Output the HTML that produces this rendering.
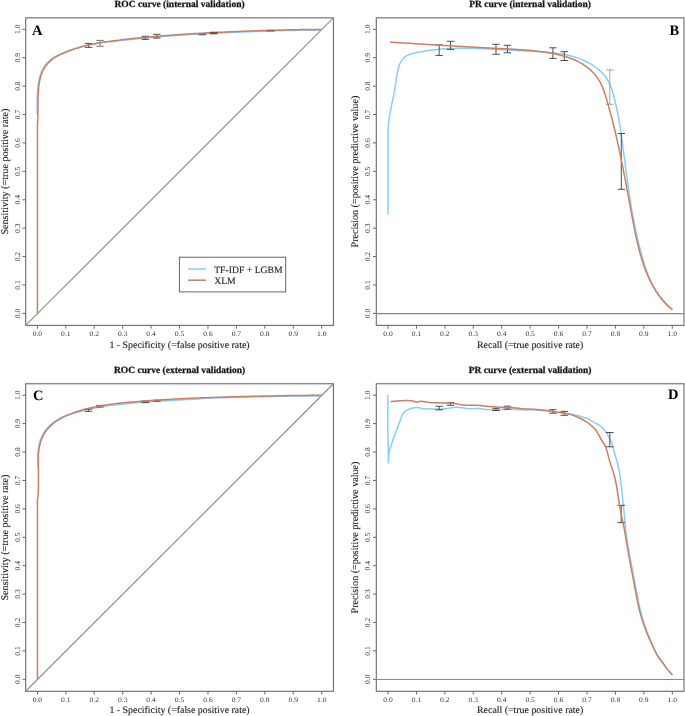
<!DOCTYPE html>
<html><head><meta charset="utf-8"><style>
html,body{margin:0;padding:0;background:#fff;width:685px;height:716px;overflow:hidden}
svg{display:block;will-change:transform}
text{font-family:"Liberation Serif", serif;text-rendering:geometricPrecision}
</style></head><body>
<svg width="685" height="716" viewBox="0 0 685 716">
<rect width="685" height="716" fill="#fff"/>
<g transform="translate(0,0)">
<rect x="25.7" y="17.85" width="307.70" height="307.55" fill="none" stroke="#6a6a6a" stroke-width="1.1"/>
<line x1="37.40" y1="325.4" x2="37.40" y2="328.7" stroke="#5a5a5a" stroke-width="0.9"/>
<line x1="25.7" y1="313.40" x2="22.4" y2="313.40" stroke="#5a5a5a" stroke-width="0.9"/>
<text transform="translate(37.40,335.8) scale(1,0.9)" font-size="7.6" text-anchor="middle" fill="#333">0.0</text>
<text transform="translate(19.6,313.40) rotate(-90)" font-size="7.6" text-anchor="middle" fill="#333">0.0</text>
<line x1="65.83" y1="325.4" x2="65.83" y2="328.7" stroke="#5a5a5a" stroke-width="0.9"/>
<line x1="25.7" y1="284.99" x2="22.4" y2="284.99" stroke="#5a5a5a" stroke-width="0.9"/>
<text transform="translate(65.83,335.8) scale(1,0.9)" font-size="7.6" text-anchor="middle" fill="#333">0.1</text>
<text transform="translate(19.6,284.99) rotate(-90)" font-size="7.6" text-anchor="middle" fill="#333">0.1</text>
<line x1="94.26" y1="325.4" x2="94.26" y2="328.7" stroke="#5a5a5a" stroke-width="0.9"/>
<line x1="25.7" y1="256.58" x2="22.4" y2="256.58" stroke="#5a5a5a" stroke-width="0.9"/>
<text transform="translate(94.26,335.8) scale(1,0.9)" font-size="7.6" text-anchor="middle" fill="#333">0.2</text>
<text transform="translate(19.6,256.58) rotate(-90)" font-size="7.6" text-anchor="middle" fill="#333">0.2</text>
<line x1="122.69" y1="325.4" x2="122.69" y2="328.7" stroke="#5a5a5a" stroke-width="0.9"/>
<line x1="25.7" y1="228.17" x2="22.4" y2="228.17" stroke="#5a5a5a" stroke-width="0.9"/>
<text transform="translate(122.69,335.8) scale(1,0.9)" font-size="7.6" text-anchor="middle" fill="#333">0.3</text>
<text transform="translate(19.6,228.17) rotate(-90)" font-size="7.6" text-anchor="middle" fill="#333">0.3</text>
<line x1="151.12" y1="325.4" x2="151.12" y2="328.7" stroke="#5a5a5a" stroke-width="0.9"/>
<line x1="25.7" y1="199.76" x2="22.4" y2="199.76" stroke="#5a5a5a" stroke-width="0.9"/>
<text transform="translate(151.12,335.8) scale(1,0.9)" font-size="7.6" text-anchor="middle" fill="#333">0.4</text>
<text transform="translate(19.6,199.76) rotate(-90)" font-size="7.6" text-anchor="middle" fill="#333">0.4</text>
<line x1="179.55" y1="325.4" x2="179.55" y2="328.7" stroke="#5a5a5a" stroke-width="0.9"/>
<line x1="25.7" y1="171.35" x2="22.4" y2="171.35" stroke="#5a5a5a" stroke-width="0.9"/>
<text transform="translate(179.55,335.8) scale(1,0.9)" font-size="7.6" text-anchor="middle" fill="#333">0.5</text>
<text transform="translate(19.6,171.35) rotate(-90)" font-size="7.6" text-anchor="middle" fill="#333">0.5</text>
<line x1="207.98" y1="325.4" x2="207.98" y2="328.7" stroke="#5a5a5a" stroke-width="0.9"/>
<line x1="25.7" y1="142.94" x2="22.4" y2="142.94" stroke="#5a5a5a" stroke-width="0.9"/>
<text transform="translate(207.98,335.8) scale(1,0.9)" font-size="7.6" text-anchor="middle" fill="#333">0.6</text>
<text transform="translate(19.6,142.94) rotate(-90)" font-size="7.6" text-anchor="middle" fill="#333">0.6</text>
<line x1="236.41" y1="325.4" x2="236.41" y2="328.7" stroke="#5a5a5a" stroke-width="0.9"/>
<line x1="25.7" y1="114.53" x2="22.4" y2="114.53" stroke="#5a5a5a" stroke-width="0.9"/>
<text transform="translate(236.41,335.8) scale(1,0.9)" font-size="7.6" text-anchor="middle" fill="#333">0.7</text>
<text transform="translate(19.6,114.53) rotate(-90)" font-size="7.6" text-anchor="middle" fill="#333">0.7</text>
<line x1="264.84" y1="325.4" x2="264.84" y2="328.7" stroke="#5a5a5a" stroke-width="0.9"/>
<line x1="25.7" y1="86.12" x2="22.4" y2="86.12" stroke="#5a5a5a" stroke-width="0.9"/>
<text transform="translate(264.84,335.8) scale(1,0.9)" font-size="7.6" text-anchor="middle" fill="#333">0.8</text>
<text transform="translate(19.6,86.12) rotate(-90)" font-size="7.6" text-anchor="middle" fill="#333">0.8</text>
<line x1="293.27" y1="325.4" x2="293.27" y2="328.7" stroke="#5a5a5a" stroke-width="0.9"/>
<line x1="25.7" y1="57.71" x2="22.4" y2="57.71" stroke="#5a5a5a" stroke-width="0.9"/>
<text transform="translate(293.27,335.8) scale(1,0.9)" font-size="7.6" text-anchor="middle" fill="#333">0.9</text>
<text transform="translate(19.6,57.71) rotate(-90)" font-size="7.6" text-anchor="middle" fill="#333">0.9</text>
<line x1="321.70" y1="325.4" x2="321.70" y2="328.7" stroke="#5a5a5a" stroke-width="0.9"/>
<line x1="25.7" y1="29.30" x2="22.4" y2="29.30" stroke="#5a5a5a" stroke-width="0.9"/>
<text transform="translate(321.70,335.8) scale(1,0.9)" font-size="7.6" text-anchor="middle" fill="#333">1.0</text>
<text transform="translate(19.6,29.30) rotate(-90)" font-size="7.6" text-anchor="middle" fill="#333">1.0</text>
<text x="179.55" y="6.9" font-size="9.5" font-weight="bold" text-anchor="middle" fill="#111" stroke="#111" stroke-width="0.25">ROC curve (internal validation)</text>
<text x="179.55" y="347.5" font-size="9.9" text-anchor="middle" fill="#1a1a1a" stroke="#1a1a1a" stroke-width="0.12">1 - Specificity (=false positive rate)</text>
<text transform="translate(7.8,171.62) rotate(-90)" font-size="10.1" text-anchor="middle" fill="#1a1a1a" stroke="#1a1a1a" stroke-width="0.12">Sensitivity (=true positive rate)</text>
<text x="31.9" y="34.6" font-size="14.5" font-weight="bold" text-anchor="start" fill="#000">A</text>
</g>
<g transform="translate(350.6,0)">
<rect x="25.7" y="17.85" width="307.70" height="307.55" fill="none" stroke="#6a6a6a" stroke-width="1.1"/>
<line x1="37.40" y1="325.4" x2="37.40" y2="328.7" stroke="#5a5a5a" stroke-width="0.9"/>
<line x1="25.7" y1="313.40" x2="22.4" y2="313.40" stroke="#5a5a5a" stroke-width="0.9"/>
<text transform="translate(37.40,335.8) scale(1,0.9)" font-size="7.6" text-anchor="middle" fill="#333">0.0</text>
<text transform="translate(19.6,313.40) rotate(-90)" font-size="7.6" text-anchor="middle" fill="#333">0.0</text>
<line x1="65.83" y1="325.4" x2="65.83" y2="328.7" stroke="#5a5a5a" stroke-width="0.9"/>
<line x1="25.7" y1="284.99" x2="22.4" y2="284.99" stroke="#5a5a5a" stroke-width="0.9"/>
<text transform="translate(65.83,335.8) scale(1,0.9)" font-size="7.6" text-anchor="middle" fill="#333">0.1</text>
<text transform="translate(19.6,284.99) rotate(-90)" font-size="7.6" text-anchor="middle" fill="#333">0.1</text>
<line x1="94.26" y1="325.4" x2="94.26" y2="328.7" stroke="#5a5a5a" stroke-width="0.9"/>
<line x1="25.7" y1="256.58" x2="22.4" y2="256.58" stroke="#5a5a5a" stroke-width="0.9"/>
<text transform="translate(94.26,335.8) scale(1,0.9)" font-size="7.6" text-anchor="middle" fill="#333">0.2</text>
<text transform="translate(19.6,256.58) rotate(-90)" font-size="7.6" text-anchor="middle" fill="#333">0.2</text>
<line x1="122.69" y1="325.4" x2="122.69" y2="328.7" stroke="#5a5a5a" stroke-width="0.9"/>
<line x1="25.7" y1="228.17" x2="22.4" y2="228.17" stroke="#5a5a5a" stroke-width="0.9"/>
<text transform="translate(122.69,335.8) scale(1,0.9)" font-size="7.6" text-anchor="middle" fill="#333">0.3</text>
<text transform="translate(19.6,228.17) rotate(-90)" font-size="7.6" text-anchor="middle" fill="#333">0.3</text>
<line x1="151.12" y1="325.4" x2="151.12" y2="328.7" stroke="#5a5a5a" stroke-width="0.9"/>
<line x1="25.7" y1="199.76" x2="22.4" y2="199.76" stroke="#5a5a5a" stroke-width="0.9"/>
<text transform="translate(151.12,335.8) scale(1,0.9)" font-size="7.6" text-anchor="middle" fill="#333">0.4</text>
<text transform="translate(19.6,199.76) rotate(-90)" font-size="7.6" text-anchor="middle" fill="#333">0.4</text>
<line x1="179.55" y1="325.4" x2="179.55" y2="328.7" stroke="#5a5a5a" stroke-width="0.9"/>
<line x1="25.7" y1="171.35" x2="22.4" y2="171.35" stroke="#5a5a5a" stroke-width="0.9"/>
<text transform="translate(179.55,335.8) scale(1,0.9)" font-size="7.6" text-anchor="middle" fill="#333">0.5</text>
<text transform="translate(19.6,171.35) rotate(-90)" font-size="7.6" text-anchor="middle" fill="#333">0.5</text>
<line x1="207.98" y1="325.4" x2="207.98" y2="328.7" stroke="#5a5a5a" stroke-width="0.9"/>
<line x1="25.7" y1="142.94" x2="22.4" y2="142.94" stroke="#5a5a5a" stroke-width="0.9"/>
<text transform="translate(207.98,335.8) scale(1,0.9)" font-size="7.6" text-anchor="middle" fill="#333">0.6</text>
<text transform="translate(19.6,142.94) rotate(-90)" font-size="7.6" text-anchor="middle" fill="#333">0.6</text>
<line x1="236.41" y1="325.4" x2="236.41" y2="328.7" stroke="#5a5a5a" stroke-width="0.9"/>
<line x1="25.7" y1="114.53" x2="22.4" y2="114.53" stroke="#5a5a5a" stroke-width="0.9"/>
<text transform="translate(236.41,335.8) scale(1,0.9)" font-size="7.6" text-anchor="middle" fill="#333">0.7</text>
<text transform="translate(19.6,114.53) rotate(-90)" font-size="7.6" text-anchor="middle" fill="#333">0.7</text>
<line x1="264.84" y1="325.4" x2="264.84" y2="328.7" stroke="#5a5a5a" stroke-width="0.9"/>
<line x1="25.7" y1="86.12" x2="22.4" y2="86.12" stroke="#5a5a5a" stroke-width="0.9"/>
<text transform="translate(264.84,335.8) scale(1,0.9)" font-size="7.6" text-anchor="middle" fill="#333">0.8</text>
<text transform="translate(19.6,86.12) rotate(-90)" font-size="7.6" text-anchor="middle" fill="#333">0.8</text>
<line x1="293.27" y1="325.4" x2="293.27" y2="328.7" stroke="#5a5a5a" stroke-width="0.9"/>
<line x1="25.7" y1="57.71" x2="22.4" y2="57.71" stroke="#5a5a5a" stroke-width="0.9"/>
<text transform="translate(293.27,335.8) scale(1,0.9)" font-size="7.6" text-anchor="middle" fill="#333">0.9</text>
<text transform="translate(19.6,57.71) rotate(-90)" font-size="7.6" text-anchor="middle" fill="#333">0.9</text>
<line x1="321.70" y1="325.4" x2="321.70" y2="328.7" stroke="#5a5a5a" stroke-width="0.9"/>
<line x1="25.7" y1="29.30" x2="22.4" y2="29.30" stroke="#5a5a5a" stroke-width="0.9"/>
<text transform="translate(321.70,335.8) scale(1,0.9)" font-size="7.6" text-anchor="middle" fill="#333">1.0</text>
<text transform="translate(19.6,29.30) rotate(-90)" font-size="7.6" text-anchor="middle" fill="#333">1.0</text>
<text x="179.55" y="6.9" font-size="9.5" font-weight="bold" text-anchor="middle" fill="#111" stroke="#111" stroke-width="0.25">PR curve (internal validation)</text>
<text x="179.55" y="347.5" font-size="9.9" text-anchor="middle" fill="#1a1a1a" stroke="#1a1a1a" stroke-width="0.12">Recall (=true positive rate)</text>
<text transform="translate(7.8,171.62) rotate(-90)" font-size="10.1" text-anchor="middle" fill="#1a1a1a" stroke="#1a1a1a" stroke-width="0.12">Precision (=positive predictive value)</text>
<text x="328.6" y="35.1" font-size="14.5" font-weight="bold" text-anchor="end" fill="#000">B</text>
</g>
<g transform="translate(0,365.9)">
<rect x="25.7" y="17.85" width="307.70" height="307.55" fill="none" stroke="#6a6a6a" stroke-width="1.1"/>
<line x1="37.40" y1="325.4" x2="37.40" y2="328.7" stroke="#5a5a5a" stroke-width="0.9"/>
<line x1="25.7" y1="313.40" x2="22.4" y2="313.40" stroke="#5a5a5a" stroke-width="0.9"/>
<text transform="translate(37.40,335.8) scale(1,0.9)" font-size="7.6" text-anchor="middle" fill="#333">0.0</text>
<text transform="translate(19.6,313.40) rotate(-90)" font-size="7.6" text-anchor="middle" fill="#333">0.0</text>
<line x1="65.83" y1="325.4" x2="65.83" y2="328.7" stroke="#5a5a5a" stroke-width="0.9"/>
<line x1="25.7" y1="284.99" x2="22.4" y2="284.99" stroke="#5a5a5a" stroke-width="0.9"/>
<text transform="translate(65.83,335.8) scale(1,0.9)" font-size="7.6" text-anchor="middle" fill="#333">0.1</text>
<text transform="translate(19.6,284.99) rotate(-90)" font-size="7.6" text-anchor="middle" fill="#333">0.1</text>
<line x1="94.26" y1="325.4" x2="94.26" y2="328.7" stroke="#5a5a5a" stroke-width="0.9"/>
<line x1="25.7" y1="256.58" x2="22.4" y2="256.58" stroke="#5a5a5a" stroke-width="0.9"/>
<text transform="translate(94.26,335.8) scale(1,0.9)" font-size="7.6" text-anchor="middle" fill="#333">0.2</text>
<text transform="translate(19.6,256.58) rotate(-90)" font-size="7.6" text-anchor="middle" fill="#333">0.2</text>
<line x1="122.69" y1="325.4" x2="122.69" y2="328.7" stroke="#5a5a5a" stroke-width="0.9"/>
<line x1="25.7" y1="228.17" x2="22.4" y2="228.17" stroke="#5a5a5a" stroke-width="0.9"/>
<text transform="translate(122.69,335.8) scale(1,0.9)" font-size="7.6" text-anchor="middle" fill="#333">0.3</text>
<text transform="translate(19.6,228.17) rotate(-90)" font-size="7.6" text-anchor="middle" fill="#333">0.3</text>
<line x1="151.12" y1="325.4" x2="151.12" y2="328.7" stroke="#5a5a5a" stroke-width="0.9"/>
<line x1="25.7" y1="199.76" x2="22.4" y2="199.76" stroke="#5a5a5a" stroke-width="0.9"/>
<text transform="translate(151.12,335.8) scale(1,0.9)" font-size="7.6" text-anchor="middle" fill="#333">0.4</text>
<text transform="translate(19.6,199.76) rotate(-90)" font-size="7.6" text-anchor="middle" fill="#333">0.4</text>
<line x1="179.55" y1="325.4" x2="179.55" y2="328.7" stroke="#5a5a5a" stroke-width="0.9"/>
<line x1="25.7" y1="171.35" x2="22.4" y2="171.35" stroke="#5a5a5a" stroke-width="0.9"/>
<text transform="translate(179.55,335.8) scale(1,0.9)" font-size="7.6" text-anchor="middle" fill="#333">0.5</text>
<text transform="translate(19.6,171.35) rotate(-90)" font-size="7.6" text-anchor="middle" fill="#333">0.5</text>
<line x1="207.98" y1="325.4" x2="207.98" y2="328.7" stroke="#5a5a5a" stroke-width="0.9"/>
<line x1="25.7" y1="142.94" x2="22.4" y2="142.94" stroke="#5a5a5a" stroke-width="0.9"/>
<text transform="translate(207.98,335.8) scale(1,0.9)" font-size="7.6" text-anchor="middle" fill="#333">0.6</text>
<text transform="translate(19.6,142.94) rotate(-90)" font-size="7.6" text-anchor="middle" fill="#333">0.6</text>
<line x1="236.41" y1="325.4" x2="236.41" y2="328.7" stroke="#5a5a5a" stroke-width="0.9"/>
<line x1="25.7" y1="114.53" x2="22.4" y2="114.53" stroke="#5a5a5a" stroke-width="0.9"/>
<text transform="translate(236.41,335.8) scale(1,0.9)" font-size="7.6" text-anchor="middle" fill="#333">0.7</text>
<text transform="translate(19.6,114.53) rotate(-90)" font-size="7.6" text-anchor="middle" fill="#333">0.7</text>
<line x1="264.84" y1="325.4" x2="264.84" y2="328.7" stroke="#5a5a5a" stroke-width="0.9"/>
<line x1="25.7" y1="86.12" x2="22.4" y2="86.12" stroke="#5a5a5a" stroke-width="0.9"/>
<text transform="translate(264.84,335.8) scale(1,0.9)" font-size="7.6" text-anchor="middle" fill="#333">0.8</text>
<text transform="translate(19.6,86.12) rotate(-90)" font-size="7.6" text-anchor="middle" fill="#333">0.8</text>
<line x1="293.27" y1="325.4" x2="293.27" y2="328.7" stroke="#5a5a5a" stroke-width="0.9"/>
<line x1="25.7" y1="57.71" x2="22.4" y2="57.71" stroke="#5a5a5a" stroke-width="0.9"/>
<text transform="translate(293.27,335.8) scale(1,0.9)" font-size="7.6" text-anchor="middle" fill="#333">0.9</text>
<text transform="translate(19.6,57.71) rotate(-90)" font-size="7.6" text-anchor="middle" fill="#333">0.9</text>
<line x1="321.70" y1="325.4" x2="321.70" y2="328.7" stroke="#5a5a5a" stroke-width="0.9"/>
<line x1="25.7" y1="29.30" x2="22.4" y2="29.30" stroke="#5a5a5a" stroke-width="0.9"/>
<text transform="translate(321.70,335.8) scale(1,0.9)" font-size="7.6" text-anchor="middle" fill="#333">1.0</text>
<text transform="translate(19.6,29.30) rotate(-90)" font-size="7.6" text-anchor="middle" fill="#333">1.0</text>
<text x="179.55" y="6.9" font-size="9.5" font-weight="bold" text-anchor="middle" fill="#111" stroke="#111" stroke-width="0.25">ROC curve (external validation)</text>
<text x="179.55" y="347.5" font-size="9.9" text-anchor="middle" fill="#1a1a1a" stroke="#1a1a1a" stroke-width="0.12">1 - Specificity (=false positive rate)</text>
<text transform="translate(7.8,171.62) rotate(-90)" font-size="10.1" text-anchor="middle" fill="#1a1a1a" stroke="#1a1a1a" stroke-width="0.12">Sensitivity (=true positive rate)</text>
<text x="33.0" y="34.3" font-size="14.5" font-weight="bold" text-anchor="start" fill="#000">C</text>
</g>
<g transform="translate(350.6,365.9)">
<rect x="25.7" y="17.85" width="307.70" height="307.55" fill="none" stroke="#6a6a6a" stroke-width="1.1"/>
<line x1="37.40" y1="325.4" x2="37.40" y2="328.7" stroke="#5a5a5a" stroke-width="0.9"/>
<line x1="25.7" y1="313.40" x2="22.4" y2="313.40" stroke="#5a5a5a" stroke-width="0.9"/>
<text transform="translate(37.40,335.8) scale(1,0.9)" font-size="7.6" text-anchor="middle" fill="#333">0.0</text>
<text transform="translate(19.6,313.40) rotate(-90)" font-size="7.6" text-anchor="middle" fill="#333">0.0</text>
<line x1="65.83" y1="325.4" x2="65.83" y2="328.7" stroke="#5a5a5a" stroke-width="0.9"/>
<line x1="25.7" y1="284.99" x2="22.4" y2="284.99" stroke="#5a5a5a" stroke-width="0.9"/>
<text transform="translate(65.83,335.8) scale(1,0.9)" font-size="7.6" text-anchor="middle" fill="#333">0.1</text>
<text transform="translate(19.6,284.99) rotate(-90)" font-size="7.6" text-anchor="middle" fill="#333">0.1</text>
<line x1="94.26" y1="325.4" x2="94.26" y2="328.7" stroke="#5a5a5a" stroke-width="0.9"/>
<line x1="25.7" y1="256.58" x2="22.4" y2="256.58" stroke="#5a5a5a" stroke-width="0.9"/>
<text transform="translate(94.26,335.8) scale(1,0.9)" font-size="7.6" text-anchor="middle" fill="#333">0.2</text>
<text transform="translate(19.6,256.58) rotate(-90)" font-size="7.6" text-anchor="middle" fill="#333">0.2</text>
<line x1="122.69" y1="325.4" x2="122.69" y2="328.7" stroke="#5a5a5a" stroke-width="0.9"/>
<line x1="25.7" y1="228.17" x2="22.4" y2="228.17" stroke="#5a5a5a" stroke-width="0.9"/>
<text transform="translate(122.69,335.8) scale(1,0.9)" font-size="7.6" text-anchor="middle" fill="#333">0.3</text>
<text transform="translate(19.6,228.17) rotate(-90)" font-size="7.6" text-anchor="middle" fill="#333">0.3</text>
<line x1="151.12" y1="325.4" x2="151.12" y2="328.7" stroke="#5a5a5a" stroke-width="0.9"/>
<line x1="25.7" y1="199.76" x2="22.4" y2="199.76" stroke="#5a5a5a" stroke-width="0.9"/>
<text transform="translate(151.12,335.8) scale(1,0.9)" font-size="7.6" text-anchor="middle" fill="#333">0.4</text>
<text transform="translate(19.6,199.76) rotate(-90)" font-size="7.6" text-anchor="middle" fill="#333">0.4</text>
<line x1="179.55" y1="325.4" x2="179.55" y2="328.7" stroke="#5a5a5a" stroke-width="0.9"/>
<line x1="25.7" y1="171.35" x2="22.4" y2="171.35" stroke="#5a5a5a" stroke-width="0.9"/>
<text transform="translate(179.55,335.8) scale(1,0.9)" font-size="7.6" text-anchor="middle" fill="#333">0.5</text>
<text transform="translate(19.6,171.35) rotate(-90)" font-size="7.6" text-anchor="middle" fill="#333">0.5</text>
<line x1="207.98" y1="325.4" x2="207.98" y2="328.7" stroke="#5a5a5a" stroke-width="0.9"/>
<line x1="25.7" y1="142.94" x2="22.4" y2="142.94" stroke="#5a5a5a" stroke-width="0.9"/>
<text transform="translate(207.98,335.8) scale(1,0.9)" font-size="7.6" text-anchor="middle" fill="#333">0.6</text>
<text transform="translate(19.6,142.94) rotate(-90)" font-size="7.6" text-anchor="middle" fill="#333">0.6</text>
<line x1="236.41" y1="325.4" x2="236.41" y2="328.7" stroke="#5a5a5a" stroke-width="0.9"/>
<line x1="25.7" y1="114.53" x2="22.4" y2="114.53" stroke="#5a5a5a" stroke-width="0.9"/>
<text transform="translate(236.41,335.8) scale(1,0.9)" font-size="7.6" text-anchor="middle" fill="#333">0.7</text>
<text transform="translate(19.6,114.53) rotate(-90)" font-size="7.6" text-anchor="middle" fill="#333">0.7</text>
<line x1="264.84" y1="325.4" x2="264.84" y2="328.7" stroke="#5a5a5a" stroke-width="0.9"/>
<line x1="25.7" y1="86.12" x2="22.4" y2="86.12" stroke="#5a5a5a" stroke-width="0.9"/>
<text transform="translate(264.84,335.8) scale(1,0.9)" font-size="7.6" text-anchor="middle" fill="#333">0.8</text>
<text transform="translate(19.6,86.12) rotate(-90)" font-size="7.6" text-anchor="middle" fill="#333">0.8</text>
<line x1="293.27" y1="325.4" x2="293.27" y2="328.7" stroke="#5a5a5a" stroke-width="0.9"/>
<line x1="25.7" y1="57.71" x2="22.4" y2="57.71" stroke="#5a5a5a" stroke-width="0.9"/>
<text transform="translate(293.27,335.8) scale(1,0.9)" font-size="7.6" text-anchor="middle" fill="#333">0.9</text>
<text transform="translate(19.6,57.71) rotate(-90)" font-size="7.6" text-anchor="middle" fill="#333">0.9</text>
<line x1="321.70" y1="325.4" x2="321.70" y2="328.7" stroke="#5a5a5a" stroke-width="0.9"/>
<line x1="25.7" y1="29.30" x2="22.4" y2="29.30" stroke="#5a5a5a" stroke-width="0.9"/>
<text transform="translate(321.70,335.8) scale(1,0.9)" font-size="7.6" text-anchor="middle" fill="#333">1.0</text>
<text transform="translate(19.6,29.30) rotate(-90)" font-size="7.6" text-anchor="middle" fill="#333">1.0</text>
<text x="179.55" y="6.9" font-size="9.5" font-weight="bold" text-anchor="middle" fill="#111" stroke="#111" stroke-width="0.25">PR curve (external validation)</text>
<text x="179.55" y="347.5" font-size="9.9" text-anchor="middle" fill="#1a1a1a" stroke="#1a1a1a" stroke-width="0.12">Recall (=true positive rate)</text>
<text transform="translate(7.8,171.62) rotate(-90)" font-size="10.1" text-anchor="middle" fill="#1a1a1a" stroke="#1a1a1a" stroke-width="0.12">Precision (=positive predictive value)</text>
<text x="328.0" y="33.6" font-size="14.5" font-weight="bold" text-anchor="end" fill="#000">D</text>
</g>
<line x1="25.7" y1="325.4" x2="333.4" y2="17.85" stroke="#939393" stroke-width="1.25"/>
<line x1="25.7" y1="691.3" x2="333.4" y2="383.75" stroke="#939393" stroke-width="1.25"/>
<line x1="376.3" y1="313.55" x2="684.0" y2="313.55" stroke="#888" stroke-width="1.15"/>
<line x1="376.3" y1="679.45" x2="684.0" y2="679.45" stroke="#888" stroke-width="1.15"/>
<path d="M37.11,114.61 L37.14,111.99 L37.15,109.35 L37.16,106.67 L37.17,103.98 L37.19,101.27 L37.23,98.55 L37.31,95.83 L37.43,93.12 L37.60,90.43 L37.82,87.75 L38.12,85.11 L38.50,82.52 L38.98,79.98 L39.56,77.51 L40.25,75.11 L41.07,72.81 L42.02,70.61 L43.11,68.51 L44.32,66.52 L45.67,64.64 L47.16,62.89 L48.77,61.25 L50.52,59.73 L52.38,58.33 L54.33,57.03 L56.38,55.82 L58.49,54.69 L61.05,54.22 L63.25,53.20 L65.49,52.24 L67.76,51.32 L70.05,50.45 L72.37,49.63 L74.72,48.85 L77.09,48.11 L79.47,47.41 L81.88,46.75 L84.30,46.12 L86.73,45.54 L89.17,44.98 L91.62,44.46 L94.07,43.97 L96.53,43.51 L99.00,43.08 L101.46,42.67 L103.92,42.28 L106.38,41.92 L108.84,41.57 L111.69,41.74 L114.13,41.43 L116.56,41.13 L118.98,40.83 L121.38,40.55 L123.78,40.28 L126.16,40.01 L128.53,39.74 L130.88,39.49 L133.23,39.24 L135.56,39.00 L137.88,38.76 L140.18,38.53 L142.48,38.31 L144.76,38.09 L147.03,37.88 L149.29,37.67 L151.54,37.47 L153.77,37.27 L156.00,37.08 L158.21,36.89 L160.41,36.71 L162.60,36.53 L164.78,36.35 L166.95,36.18 L169.11,36.02 L171.26,35.86 L173.40,35.70 L175.52,35.55 L177.64,35.40 L179.75,35.25 L181.85,35.11 L183.94,34.97 L186.02,34.83 L188.09,34.70 L190.15,34.57 L192.20,34.44 L194.25,34.32 L196.28,34.20 L198.31,34.08 L200.32,33.96 L202.33,33.85 L204.33,33.74 L206.33,33.63 L208.31,33.53 L210.29,33.42 L212.26,33.32 L214.22,33.22 L216.18,33.12 L218.13,33.03 L220.07,32.94 L222.00,32.84 L223.93,32.75 L225.85,32.67 L227.76,32.58 L229.67,32.50 L231.57,32.41 L233.47,32.33 L235.36,32.25 L237.25,32.17 L239.12,32.10 L241.00,32.02 L242.87,31.95 L244.73,31.88 L246.59,31.81 L248.44,31.74 L250.29,31.67 L252.13,31.60 L253.97,31.54 L255.81,31.47 L257.64,31.41 L259.46,31.35 L261.29,31.29 L263.10,31.23 L264.92,31.17 L266.73,31.11 L268.54,31.06 L270.34,31.00 L272.15,30.95 L273.95,30.90 L275.74,30.85 L277.53,30.80 L279.32,30.75 L281.11,30.71 L282.90,30.66 L284.68,30.62 L286.46,30.58 L288.24,30.54 L290.02,30.50 L291.79,30.46 L293.57,30.43 L295.34,30.39 L297.11,30.36 L298.88,30.33 L300.65,30.30 L302.41,30.27 L304.18,30.25 L305.94,30.22 L307.71,30.20 L309.47,30.18 L311.23,30.16 L312.99,30.15 L314.76,30.13 L316.52,30.12 L318.28,30.11 L320.04,30.11 L321.80,30.10" fill="none" stroke="#87CEFA" stroke-width="1.5" stroke-linejoin="round"/>
<path d="M388.05,214.70 L388.05,132.00M388.05,132.00 L388.11,130.46 L388.19,128.93 L388.30,127.41 L388.42,125.89 L388.56,124.38 L388.72,122.88 L388.89,121.38 L389.08,119.89 L389.29,118.40 L389.51,116.92 L389.73,115.44 L389.97,113.97 L390.23,112.49 L390.48,111.03 L390.75,109.56 L391.03,108.09 L391.31,106.63 L391.59,105.17 L391.88,103.70 L392.17,102.24 L392.47,100.78 L392.76,99.31 L393.06,97.85 L393.35,96.38 L393.64,94.91 L393.93,93.44 L394.21,91.96 L394.49,90.48 L394.76,89.00 L395.03,87.51 L395.28,86.02 L395.53,84.52 L395.77,83.02 L395.99,81.51 L396.21,79.99 L396.43,78.47 L396.66,76.94 L396.90,75.41 L397.16,73.88 L397.45,72.34 L397.77,70.79 L398.12,69.25 L398.53,67.71 L398.99,66.19 L399.52,64.70 L400.12,63.27 L400.80,61.90 L401.58,60.61 L402.46,59.42 L403.44,58.33 L404.51,57.34 L405.67,56.46 L406.89,55.69 L408.18,55.02 L409.51,54.46 L410.89,53.99 L412.29,53.59 L413.71,53.23 L415.15,52.91 L416.58,52.60 L418.02,52.30 L419.46,52.01 L420.91,51.73 L422.36,51.47 L423.81,51.22 L425.26,50.98 L426.72,50.76 L428.17,50.54 L429.64,50.34 L431.10,50.14 L432.57,49.96 L434.03,49.79 L435.50,49.63 L436.98,49.48 L438.45,49.34 L439.93,49.20 L441.41,49.08 L442.89,48.97 L444.38,48.87 L445.86,48.77 L447.35,48.69 L448.84,48.61 L450.33,48.54 L451.83,48.48 L453.32,48.42 L454.82,48.38 L456.32,48.34 L457.82,48.31 L459.32,48.29 L460.83,48.27 L462.33,48.26 L463.84,48.26 L465.35,48.26 L466.86,48.27 L468.37,48.28 L469.88,48.30 L471.39,48.33 L472.91,48.36 L474.42,48.39 L475.94,48.43 L477.46,48.48 L478.97,48.53 L480.49,48.58 L482.01,48.64 L483.54,48.70 L485.06,48.76 L486.58,48.83 L488.10,48.90 L489.63,48.97 L491.15,49.05 L492.67,49.13 L494.20,49.21 L495.73,49.29 L497.25,49.38 L498.78,49.46 L500.30,49.55 L501.83,49.64 L503.36,49.73 L504.88,49.82 L506.41,49.91 L507.94,50.01 L509.47,50.10 L510.99,50.19 L512.52,50.28 L514.05,50.37 L515.57,50.46 L517.10,50.55 L518.62,50.64 L520.15,50.73 L521.67,50.82 L523.20,50.90 L524.72,50.98 L526.24,51.06 L527.77,51.14 L529.29,51.22 L530.81,51.29 L532.33,51.37 L533.85,51.44 L535.36,51.52 L536.88,51.60 L538.39,51.68 L539.90,51.77 L541.41,51.86 L542.92,51.95 L544.42,52.06 L545.92,52.17 L547.42,52.28 L548.92,52.41 L550.41,52.55 L551.90,52.69 L553.38,52.85 L554.86,53.02 L556.34,53.21 L557.81,53.40 L559.28,53.62 L560.75,53.84 L562.20,54.09 L563.66,54.35 L565.11,54.63 L566.55,54.93 L567.99,55.24 L569.42,55.58 L570.85,55.94 L572.27,56.32 L573.68,56.73 L575.09,57.16 L576.49,57.61 L577.89,58.09 L579.27,58.59 L580.65,59.13 L582.03,59.69 L583.39,60.28 L584.75,60.89 L586.10,61.54 L587.44,62.23 L588.78,62.94 L590.10,63.68 L591.42,64.46 L592.72,65.28 L594.00,66.12 L595.26,67.00 L596.50,67.91 L597.71,68.86 L598.90,69.83 L600.05,70.84 L601.16,71.89 L602.24,72.96 L603.27,74.07 L604.26,75.21 L605.21,76.39 L606.10,77.60 L606.93,78.83 L607.71,80.11 L608.44,81.41 L609.11,82.74 L609.74,84.10 L610.33,85.48 L610.87,86.88 L611.38,88.29 L611.87,89.72 L612.32,91.16 L612.76,92.62 L613.17,94.07 L613.57,95.54 L613.97,97.00 L614.35,98.47 L614.72,99.93 L615.08,101.40 L615.43,102.88 L615.78,104.35 L616.11,105.82 L616.44,107.30 L616.75,108.78 L617.06,110.26 L617.36,111.74 L617.66,113.22 L617.94,114.70 L618.22,116.18 L618.50,117.67 L618.76,119.15 L619.02,120.64 L619.28,122.13 L619.53,123.62 L619.77,125.11 L620.01,126.60 L620.24,128.09 L620.47,129.58 L620.70,131.07 L620.92,132.57 L621.14,134.06 L621.35,135.55 L621.56,137.05 L621.77,138.54 L621.98,140.03 L622.18,141.53 L622.39,143.02 L622.59,144.52 L622.79,146.01 L622.98,147.51 L623.18,149.00 L623.38,150.49 L623.57,151.99 L623.77,153.48 L623.96,154.97 L624.16,156.47 L624.35,157.96 L624.55,159.45 L624.74,160.95 L624.93,162.44 L625.13,163.93 L625.32,165.42 L625.52,166.91 L625.71,168.41 L625.91,169.90 L626.10,171.39 L626.30,172.88 L626.50,174.37 L626.70,175.86 L626.90,177.35 L627.10,178.84 L627.30,180.33 L627.51,181.82 L627.71,183.31 L627.92,184.80 L628.13,186.28 L628.34,187.77 L628.55,189.26 L628.77,190.75 L628.99,192.23 L629.21,193.72 L629.43,195.21 L629.65,196.69 L629.88,198.18 L630.11,199.66 L630.34,201.15 L630.58,202.63 L630.81,204.12 L631.06,205.60 L631.30,207.08 L631.55,208.57 L631.80,210.05 L632.06,211.53 L632.31,213.01 L632.58,214.49 L632.84,215.97 L633.11,217.45 L633.39,218.93 L633.67,220.41 L633.95,221.89 L634.24,223.37 L634.53,224.84 L634.83,226.32 L635.13,227.80 L635.44,229.27 L635.75,230.75 L636.06,232.22 L636.38,233.70 L636.71,235.17 L637.04,236.64 L637.38,238.12 L637.72,239.59 L638.07,241.06 L638.43,242.53 L638.79,244.00 L639.15,245.47 L639.53,246.94 L639.91,248.41 L640.29,249.87 L640.68,251.34 L641.08,252.81 L641.49,254.27 L641.90,255.74 L642.32,257.20 L642.74,258.67 L643.18,260.13 L643.62,261.59 L644.06,263.05 L644.52,264.51 L644.99,265.97 L645.46,267.42 L645.95,268.87 L646.44,270.31 L646.95,271.75 L647.47,273.18 L648.01,274.61 L648.56,276.03 L649.12,277.44 L649.70,278.84 L650.30,280.23 L650.91,281.61 L651.54,282.97 L652.19,284.33 L652.86,285.67 L653.54,287.00 L654.25,288.32 L654.98,289.62 L655.73,290.91 L656.50,292.18 L657.30,293.43 L658.12,294.66 L658.96,295.88 L659.83,297.08 L660.73,298.26 L661.65,299.41 L662.60,300.55 L663.58,301.66 L664.59,302.75 L665.62,303.82 L666.69,304.87 L667.79,305.89 L668.92,306.88 L670.08,307.85 L671.27,308.79 L672.50,309.70" fill="none" stroke="#87CEFA" stroke-width="1.5" stroke-linejoin="round" stroke-linecap="butt"/>
<path d="M37.72,468.19 L37.72,465.37 L37.72,462.54 L37.72,459.73 L37.72,456.94 L37.72,454.17 L37.94,451.44 L38.30,448.77 L38.76,446.15 L39.32,443.60 L40.01,441.13 L40.83,438.76 L41.79,436.49 L42.89,434.34 L44.12,432.29 L45.48,430.35 L46.95,428.50 L48.53,426.76 L50.22,425.11 L52.00,423.56 L53.87,422.09 L55.82,420.71 L57.84,419.41 L59.95,418.23 L62.17,417.23 L64.45,416.31 L66.77,415.45 L69.14,414.65 L71.54,413.91 L73.98,413.21 L76.43,412.57 L78.92,411.97 L81.37,411.31 L83.81,410.61 L86.26,409.96 L88.73,409.34 L91.21,408.76 L93.71,408.22 L96.21,407.71 L98.72,407.24 L101.23,406.79 L103.75,406.37 L106.26,405.99 L108.78,405.62 L111.30,405.29 L113.81,404.97 L116.32,404.67 L118.82,404.39 L121.32,404.13 L123.80,403.88 L126.27,403.65 L128.73,403.42 L131.18,403.20 L133.62,402.99 L136.04,402.79 L138.44,402.59 L140.84,402.40 L143.22,402.21 L145.58,402.03 L147.94,401.86 L150.28,401.69 L152.60,401.52 L154.92,401.37 L157.22,401.21 L159.51,401.06 L161.79,400.92 L164.06,400.78 L166.31,400.64 L168.55,400.51 L170.78,400.39 L173.00,400.26 L175.21,400.14 L177.40,400.03 L179.59,399.92 L181.76,399.81 L183.93,399.70 L186.08,399.60 L188.22,399.50 L190.35,399.41 L192.48,399.31 L194.59,399.22 L196.69,399.13 L198.78,399.05 L200.87,398.47 L202.94,398.39 L205.01,398.31 L207.06,398.23 L209.11,398.16 L211.15,398.09 L213.18,398.02 L215.20,397.95 L217.22,397.88 L219.22,397.82 L221.22,397.75 L223.21,397.69 L225.19,397.63 L227.17,397.57 L229.14,397.51 L231.10,397.46 L233.05,397.40 L235.00,397.35 L236.94,397.30 L238.88,397.25 L240.80,397.20 L242.73,397.15 L244.64,397.10 L246.55,397.05 L248.46,397.01 L250.36,396.96 L252.25,396.92 L254.14,396.87 L256.03,396.83 L257.91,396.79 L259.78,396.75 L261.65,396.71 L263.52,396.67 L265.38,396.63 L267.24,396.59 L269.09,396.55 L270.94,396.52 L272.79,396.48 L274.63,396.44 L276.47,396.41 L278.31,396.38 L280.14,396.35 L281.97,396.31 L283.80,396.28 L285.63,396.25 L287.45,396.22 L289.27,396.20 L291.09,396.17 L292.91,396.14 L294.72,396.12 L296.54,396.10 L298.35,396.07 L300.16,396.05 L301.96,396.03 L303.77,396.01 L305.58,395.99 L307.38,395.98 L309.19,395.96 L310.99,395.95 L312.79,395.94 L314.59,395.93 L316.40,395.92 L318.20,395.91 L320.00,395.90 L321.80,395.90" fill="none" stroke="#87CEFA" stroke-width="1.5" stroke-linejoin="round"/>
<path d="M387.85,395.00C387.85,400.88 387.79,421.97 387.85,430.30C387.91,438.63 388.11,439.47 388.20,445.00C388.29,450.53 388.37,460.42 388.40,463.50M388.40,463.50C388.47,462.08 388.62,457.08 388.80,455.00C388.98,452.92 388.82,453.53 389.50,451.00C390.18,448.47 392.33,441.67 392.90,439.80M392.90,439.80C394.48,435.60 400.82,418.80 402.40,414.60M402.40,414.60C402.83,414.08 404.07,412.33 405.00,411.50C405.93,410.67 406.77,410.20 408.00,409.60C409.23,409.00 410.73,408.23 412.40,407.90C414.07,407.57 416.13,407.42 418.00,407.60C419.87,407.78 421.60,408.80 423.60,409.00C425.60,409.20 426.98,408.77 430.00,408.80C433.02,408.83 437.22,409.45 441.70,409.20C446.18,408.95 452.43,407.38 456.90,407.30C461.37,407.22 464.62,408.52 468.50,408.70C472.38,408.88 477.47,408.25 480.20,408.40C482.93,408.55 481.58,409.40 484.90,409.60C488.22,409.80 495.92,409.68 500.10,409.60C504.28,409.52 506.40,409.08 510.00,409.10C513.60,409.12 517.80,409.60 521.70,409.70C525.60,409.80 529.52,409.52 533.40,409.70C537.28,409.88 541.12,410.42 545.00,410.80C548.88,411.18 552.80,411.50 556.70,412.00C560.60,412.50 564.90,413.22 568.40,413.80C571.90,414.38 574.43,414.65 577.70,415.50C580.97,416.35 585.18,417.67 588.00,418.90C590.82,420.13 592.62,421.78 594.60,422.90C596.58,424.02 598.23,424.38 599.90,425.60C601.57,426.82 603.17,428.43 604.60,430.20C606.03,431.97 607.28,433.98 608.50,436.20C609.72,438.42 610.90,440.73 611.90,443.50C612.90,446.27 613.52,449.27 614.50,452.80C615.48,456.33 616.92,461.17 617.80,464.70C618.68,468.23 619.18,470.12 619.80,474.00C620.42,477.88 620.77,481.48 621.50,488.00C622.23,494.52 623.37,505.07 624.20,513.10C625.03,521.13 625.47,528.52 626.50,536.20C627.53,543.88 629.12,552.03 630.40,559.20C631.68,566.37 632.92,572.40 634.20,579.20C635.48,586.00 637.08,594.87 638.10,600.00C639.12,605.13 639.32,606.17 640.30,610.00C641.28,613.83 642.75,619.03 644.00,623.00C645.25,626.97 646.42,630.22 647.80,633.80C649.18,637.38 650.85,641.13 652.30,644.50C653.75,647.87 654.97,651.17 656.50,654.00C658.03,656.83 659.75,659.07 661.50,661.50C663.25,663.93 665.18,666.37 667.00,668.60C668.82,670.83 671.50,673.85 672.40,674.90" fill="none" stroke="#87CEFA" stroke-width="1.5" stroke-linejoin="round" stroke-linecap="butt"/>
<path d="M84.85,43.40H92.35M88.60,43.40V47.40M84.85,47.40H92.35" fill="none" stroke="#3c3c3c" stroke-width="0.9"/>
<path d="M96.25,40.40H103.75M100.00,40.40V46.20M96.25,46.20H103.75" fill="none" stroke="#6a6a6a" stroke-width="0.9"/>
<path d="M141.65,36.30H149.15M145.40,36.30V39.40M141.65,39.40H149.15" fill="none" stroke="#3c3c3c" stroke-width="0.9"/>
<path d="M153.05,34.30H160.55M156.80,34.30V38.10M153.05,38.10H160.55" fill="none" stroke="#3c3c3c" stroke-width="0.9"/>
<path d="M198.55,33.60H206.05M202.30,33.60V34.80M198.55,34.80H206.05" fill="none" stroke="#3c3c3c" stroke-width="0.9"/>
<path d="M209.95,32.60H217.45M213.70,32.60V33.80M209.95,33.80H217.45" fill="none" stroke="#3c3c3c" stroke-width="0.9"/>
<path d="M435.45,45.00H442.95M439.20,45.00V55.40M435.45,55.40H442.95" fill="none" stroke="#3c3c3c" stroke-width="0.9"/>
<path d="M446.75,41.30H454.25M450.50,41.30V49.40M446.75,49.40H454.25" fill="none" stroke="#3c3c3c" stroke-width="0.9"/>
<path d="M492.25,44.30H499.75M496.00,44.30V54.30M492.25,54.30H499.75" fill="none" stroke="#3c3c3c" stroke-width="0.9"/>
<path d="M503.65,45.30H511.15M507.40,45.30V52.75M503.65,52.75H511.15" fill="none" stroke="#3c3c3c" stroke-width="0.9"/>
<path d="M549.15,47.80H556.65M552.90,47.80V58.40M549.15,58.40H556.65" fill="none" stroke="#3c3c3c" stroke-width="0.9"/>
<path d="M560.55,51.70H568.05M564.30,51.70V60.50M560.55,60.50H568.05" fill="none" stroke="#3c3c3c" stroke-width="0.9"/>
<path d="M606.05,69.90H613.55M609.80,69.90V104.30M606.05,104.30H613.55" fill="none" stroke="#999" stroke-width="0.9"/>
<path d="M617.55,133.50H625.05M621.30,133.50V189.30M617.55,189.30H625.05" fill="none" stroke="#3c3c3c" stroke-width="0.9"/>
<path d="M84.85,409.00H92.35M88.60,409.00V411.30M84.85,411.30H92.35" fill="none" stroke="#3c3c3c" stroke-width="0.9"/>
<path d="M96.25,405.40H103.75M100.00,405.40V407.00M96.25,407.00H103.75" fill="none" stroke="#3c3c3c" stroke-width="0.9"/>
<path d="M141.65,401.00H149.15M145.40,401.00V402.60M141.65,402.60H149.15" fill="none" stroke="#3c3c3c" stroke-width="0.9"/>
<path d="M153.05,400.20H160.55M156.80,400.20V401.20M153.05,401.20H160.55" fill="none" stroke="#3c3c3c" stroke-width="0.9"/>
<path d="M435.45,406.30H442.95M439.20,406.30V409.80M435.45,409.80H442.95" fill="none" stroke="#3c3c3c" stroke-width="0.9"/>
<path d="M446.75,402.60H454.25M450.50,402.60V405.30M446.75,405.30H454.25" fill="none" stroke="#3c3c3c" stroke-width="0.9"/>
<path d="M492.25,408.30H499.75M496.00,408.30V410.50M492.25,410.50H499.75" fill="none" stroke="#3c3c3c" stroke-width="0.9"/>
<path d="M503.65,406.20H511.15M507.40,406.20V409.20M503.65,409.20H511.15" fill="none" stroke="#3c3c3c" stroke-width="0.9"/>
<path d="M549.15,409.70H556.65M552.90,409.70V413.20M549.15,413.20H556.65" fill="none" stroke="#3c3c3c" stroke-width="0.9"/>
<path d="M560.55,411.40H568.05M564.30,411.40V415.30M560.55,415.30H568.05" fill="none" stroke="#3c3c3c" stroke-width="0.9"/>
<path d="M606.05,432.50H613.55M609.80,432.50V446.80M606.05,446.80H613.55" fill="none" stroke="#3c3c3c" stroke-width="0.9"/>
<path d="M617.45,505.40H624.95M621.20,505.40V522.60M617.45,522.60H624.95" fill="none" stroke="#3c3c3c" stroke-width="0.9"/>
<path d="M37.45,313.40 L37.45,125.00M37.45,125.00 L37.64,122.58 L37.77,120.10 L37.86,117.58 L37.91,115.01 L37.94,112.39 L37.95,109.75 L37.96,107.07 L37.97,104.38 L37.99,101.67 L38.03,98.95 L38.11,96.23 L38.23,93.52 L38.40,90.83 L38.62,88.15 L38.92,85.51 L39.30,82.92 L39.78,80.38 L40.36,77.91 L41.05,75.51 L41.87,73.21 L42.82,71.01 L43.91,68.91 L45.12,66.92 L46.47,65.04 L47.96,63.29 L49.57,61.65 L51.32,60.13 L53.18,58.73 L55.13,57.43 L57.18,56.22 L59.29,55.09 L61.45,54.02 L63.65,53.00 L65.89,52.04 L68.16,51.12 L70.45,50.25 L72.77,49.43 L75.12,48.65 L77.49,47.91 L79.87,47.21 L82.28,46.55 L84.70,45.92 L87.13,45.34 L89.57,44.78 L92.02,44.26 L94.47,43.77 L96.93,43.31 L99.40,42.88 L101.86,42.47 L104.32,42.08 L106.78,41.72 L109.24,41.37 L111.69,41.04 L114.13,40.73 L116.56,40.43 L118.98,40.13 L121.38,39.85 L123.78,39.58 L126.16,39.31 L128.53,39.04 L130.88,38.79 L133.23,38.54 L135.56,38.30 L137.88,38.06 L140.18,37.83 L142.48,37.61 L144.76,37.39 L147.03,37.18 L149.29,36.97 L151.54,36.77 L153.77,36.57 L156.00,36.38 L158.21,36.19 L160.41,36.01 L162.60,35.83 L164.78,35.65 L166.95,35.48 L169.11,35.32 L171.26,35.16 L173.40,35.00 L175.52,34.85 L177.64,34.70 L179.75,34.55 L181.85,34.41 L183.94,34.27 L186.02,34.13 L188.09,34.00 L190.15,33.87 L192.20,33.74 L194.25,33.62 L196.28,33.50 L198.31,33.38 L200.32,33.26 L202.33,33.15 L204.33,33.04 L206.33,32.93 L208.31,32.83 L210.29,32.72 L212.26,32.62 L214.22,32.52 L216.18,32.42 L218.13,32.33 L220.07,32.24 L222.00,32.14 L223.93,32.05 L225.85,31.97 L227.76,31.88 L229.67,31.80 L231.57,31.71 L233.47,31.63 L235.36,31.55 L237.25,31.47 L239.12,31.40 L241.00,31.32 L242.87,31.25 L244.73,31.18 L246.59,31.11 L248.44,31.04 L250.29,30.97 L252.13,30.90 L253.97,30.84 L255.81,30.77 L257.64,30.71 L259.46,30.65 L261.29,30.59 L263.10,30.53 L264.92,30.47 L266.73,30.41 L268.54,30.36 L270.34,30.30 L272.15,30.25 L273.95,30.20 L275.74,30.15 L277.53,30.10 L279.32,30.05 L281.11,30.01 L282.90,29.96 L284.68,29.92 L286.46,29.88 L288.24,29.84 L290.02,29.80 L291.79,29.76 L293.57,29.73 L295.34,29.69 L297.11,29.66 L298.88,29.63 L300.65,29.60 L302.41,29.57 L304.18,29.55 L305.94,29.52 L307.71,29.50 L309.47,29.48 L311.23,29.46 L312.99,29.45 L314.76,29.43 L316.52,29.42 L318.28,29.41 L320.04,29.41 L321.80,29.40" fill="none" stroke="#CD7F60" stroke-width="1.5" stroke-linejoin="round"/>
<path d="M390.10,42.10 L391.64,42.20 L393.18,42.30 L394.71,42.40 L396.25,42.50 L397.78,42.60 L399.31,42.69 L400.83,42.79 L402.35,42.89 L403.87,42.99 L405.39,43.08 L406.91,43.18 L408.42,43.27 L409.93,43.37 L411.44,43.46 L412.95,43.56 L414.46,43.65 L415.96,43.75 L417.46,43.84 L418.96,43.93 L420.46,44.03 L421.96,44.12 L423.46,44.21 L424.95,44.30 L426.45,44.39 L427.94,44.49 L429.43,44.58 L430.92,44.67 L432.41,44.76 L433.90,44.85 L435.39,44.94 L436.87,45.03 L438.36,45.11 L439.85,45.20 L441.33,45.29 L442.82,45.38 L444.30,45.47 L445.79,45.55 L447.27,45.64 L448.75,45.73 L450.24,45.81 L451.72,45.90 L453.20,45.99 L454.69,46.07 L456.17,46.16 L457.66,46.24 L459.14,46.33 L460.63,46.41 L462.11,46.50 L463.60,46.58 L465.08,46.67 L466.57,46.75 L468.06,46.83 L469.55,46.92 L471.04,47.00 L472.53,47.08 L474.02,47.17 L475.51,47.25 L477.01,47.33 L478.51,47.41 L480.00,47.49 L481.50,47.58 L483.00,47.66 L484.50,47.74 L486.01,47.82 L487.51,47.90 L489.02,47.98 L490.53,48.06 L492.04,48.14 L493.55,48.22 L495.07,48.30 L496.58,48.38 L498.10,48.46 L499.62,48.54 L501.15,48.62 L502.67,48.70 L504.20,48.78 L505.73,48.86 L507.27,48.94 L508.80,49.02 L510.34,49.10 L511.88,49.19 L513.42,49.27 L514.96,49.36 L516.50,49.45 L518.04,49.55 L519.58,49.65 L521.12,49.75 L522.66,49.86 L524.20,49.97 L525.74,50.09 L527.28,50.21 L528.82,50.34 L530.35,50.48 L531.88,50.62 L533.42,50.77 L534.94,50.93 L536.47,51.09 L537.99,51.27 L539.51,51.45 L541.03,51.65 L542.54,51.85 L544.04,52.06 L545.55,52.29 L547.05,52.52 L548.54,52.77 L550.03,53.02 L551.51,53.29 L552.99,53.58 L554.46,53.87 L555.93,54.18 L557.39,54.50 L558.84,54.84 L560.29,55.19 L561.73,55.56 L563.16,55.94 L564.59,56.34 L566.00,56.76 L567.41,57.20 L568.81,57.67 L570.21,58.16 L571.59,58.68 L572.96,59.22 L574.33,59.79 L575.68,60.40 L577.02,61.04 L578.36,61.70 L579.67,62.40 L580.97,63.14 L582.26,63.90 L583.52,64.69 L584.77,65.52 L585.99,66.38 L587.19,67.27 L588.36,68.19 L589.50,69.14 L590.62,70.12 L591.70,71.13 L592.76,72.18 L593.77,73.25 L594.76,74.36 L595.70,75.50 L596.61,76.67 L597.48,77.87 L598.31,79.10 L599.09,80.36 L599.83,81.65 L600.53,82.96 L601.19,84.30 L601.82,85.67 L602.42,87.05 L602.99,88.45 L603.53,89.87 L604.06,91.31 L604.55,92.75 L605.04,94.21 L605.50,95.67 L605.96,97.14 L606.40,98.61 L606.83,100.08 L607.26,101.56 L607.69,103.03 L608.11,104.50 L608.53,105.97 L608.94,107.44 L609.34,108.91 L609.75,110.38 L610.15,111.85 L610.54,113.32 L610.93,114.78 L611.32,116.25 L611.70,117.72 L612.08,119.18 L612.45,120.65 L612.82,122.11 L613.19,123.58 L613.55,125.04 L613.91,126.50 L614.27,127.97 L614.62,129.43 L614.97,130.89 L615.32,132.35 L615.66,133.82 L616.00,135.28 L616.34,136.74 L616.67,138.20 L617.01,139.66 L617.33,141.13 L617.66,142.59 L617.98,144.05 L618.30,145.51 L618.62,146.97 L618.94,148.43 L619.25,149.90 L619.56,151.36 L619.87,152.82 L620.18,154.28 L620.48,155.74 L620.78,157.21 L621.08,158.67 L621.38,160.13 L621.68,161.60 L621.97,163.06 L622.27,164.53 L622.56,165.99 L622.85,167.46 L623.14,168.92 L623.42,170.39 L623.71,171.86 L624.00,173.33 L624.28,174.79 L624.56,176.26 L624.84,177.73 L625.12,179.20 L625.40,180.67 L625.68,182.15 L625.96,183.62 L626.24,185.09 L626.51,186.57 L626.79,188.04 L627.07,189.52 L627.34,190.99 L627.62,192.47 L627.89,193.95 L628.17,195.43 L628.44,196.91 L628.72,198.39 L628.99,199.88 L629.27,201.36 L629.54,202.85 L629.82,204.33 L630.10,205.82 L630.37,207.31 L630.65,208.80 L630.93,210.29 L631.20,211.79 L631.48,213.28 L631.76,214.78 L632.04,216.28 L632.33,217.77 L632.61,219.27 L632.89,220.78 L633.18,222.28 L633.46,223.78 L633.75,225.29 L634.04,226.80 L634.34,228.30 L634.63,229.81 L634.94,231.31 L635.24,232.82 L635.55,234.32 L635.86,235.82 L636.18,237.33 L636.51,238.83 L636.84,240.32 L637.17,241.82 L637.52,243.31 L637.87,244.80 L638.22,246.29 L638.59,247.77 L638.96,249.25 L639.34,250.73 L639.73,252.20 L640.13,253.67 L640.54,255.13 L640.96,256.59 L641.39,258.05 L641.83,259.49 L642.28,260.93 L642.75,262.37 L643.22,263.80 L643.71,265.22 L644.21,266.64 L644.72,268.05 L645.25,269.45 L645.78,270.84 L646.34,272.23 L646.91,273.60 L647.49,274.97 L648.09,276.33 L648.70,277.68 L649.33,279.02 L649.97,280.35 L650.64,281.68 L651.32,282.99 L652.01,284.29 L652.73,285.58 L653.46,286.86 L654.21,288.13 L654.98,289.38 L655.77,290.63 L656.58,291.86 L657.41,293.08 L658.26,294.29 L659.13,295.48 L660.02,296.66 L660.93,297.83 L661.86,298.98 L662.82,300.12 L663.80,301.25 L664.80,302.36 L665.83,303.45 L666.88,304.54 L667.95,305.60 L669.05,306.65 L670.17,307.68 L671.32,308.70 L672.50,309.70" fill="none" stroke="#CD7F60" stroke-width="1.5" stroke-linejoin="round" stroke-linecap="butt"/>
<path d="M37.45,679.50 L37.45,500.00M37.45,500.00 L37.81,497.70 L38.08,495.33 L38.26,492.88 L38.37,490.37 L38.42,487.79 L38.42,485.16 L38.42,482.49 L38.42,479.76 L38.42,477.01 L38.42,474.22 L38.42,471.41 L38.42,468.59 L38.42,465.77 L38.42,462.94 L38.42,460.13 L38.42,457.34 L38.42,454.57 L38.64,451.84 L39.00,449.17 L39.46,446.55 L40.02,444.00 L40.71,441.53 L41.53,439.16 L42.49,436.89 L43.59,434.74 L44.82,432.69 L46.18,430.75 L47.65,428.90 L49.23,427.16 L50.92,425.51 L52.70,423.96 L54.57,422.49 L56.52,421.11 L58.54,419.81 L60.63,418.58 L62.77,417.42 L64.97,416.33 L67.22,415.31 L69.51,414.34 L71.83,413.42 L74.18,412.55 L76.55,411.72 L78.95,410.94 L81.37,410.21 L83.81,409.51 L86.26,408.86 L88.73,408.24 L91.21,407.66 L93.71,407.12 L96.21,406.61 L98.72,406.14 L101.23,405.69 L103.75,405.27 L106.26,404.89 L108.78,404.52 L111.30,404.19 L113.81,403.87 L116.32,403.57 L118.82,403.29 L121.32,403.03 L123.80,402.78 L126.27,402.55 L128.73,402.32 L131.18,402.10 L133.62,401.89 L136.04,401.69 L138.44,401.49 L140.84,401.30 L143.22,401.11 L145.58,400.93 L147.94,400.76 L150.28,400.59 L152.60,400.42 L154.92,400.27 L157.22,400.11 L159.51,399.96 L161.79,399.82 L164.06,399.68 L166.31,399.54 L168.55,399.41 L170.78,399.29 L173.00,399.16 L175.21,399.04 L177.40,398.93 L179.59,398.82 L181.76,398.71 L183.93,398.60 L186.08,398.50 L188.22,398.40 L190.35,398.31 L192.48,398.21 L194.59,398.12 L196.69,398.03 L198.78,397.95 L200.87,397.87 L202.94,397.79 L205.01,397.71 L207.06,397.63 L209.11,397.56 L211.15,397.49 L213.18,397.42 L215.20,397.35 L217.22,397.28 L219.22,397.22 L221.22,397.15 L223.21,397.09 L225.19,397.03 L227.17,396.97 L229.14,396.91 L231.10,396.86 L233.05,396.80 L235.00,396.75 L236.94,396.70 L238.88,396.65 L240.80,396.60 L242.73,396.55 L244.64,396.50 L246.55,396.45 L248.46,396.41 L250.36,396.36 L252.25,396.32 L254.14,396.27 L256.03,396.23 L257.91,396.19 L259.78,396.15 L261.65,396.11 L263.52,396.07 L265.38,396.03 L267.24,395.99 L269.09,395.95 L270.94,395.92 L272.79,395.88 L274.63,395.84 L276.47,395.81 L278.31,395.78 L280.14,395.75 L281.97,395.71 L283.80,395.68 L285.63,395.65 L287.45,395.62 L289.27,395.60 L291.09,395.57 L292.91,395.54 L294.72,395.52 L296.54,395.50 L298.35,395.47 L300.16,395.45 L301.96,395.43 L303.77,395.41 L305.58,395.39 L307.38,395.38 L309.19,395.36 L310.99,395.35 L312.79,395.34 L314.59,395.33 L316.40,395.32 L318.20,395.31 L320.00,395.30 L321.80,395.30" fill="none" stroke="#CD7F60" stroke-width="1.5" stroke-linejoin="round"/>
<path d="M390.60,401.70C391.63,401.57 393.90,401.08 396.80,400.90C399.70,400.72 405.20,400.55 408.00,400.60C410.80,400.65 412.12,400.95 413.60,401.20C415.08,401.45 415.60,402.10 416.90,402.10C418.20,402.10 419.22,401.12 421.40,401.20C423.58,401.28 426.62,402.32 430.00,402.60C433.38,402.88 437.62,402.77 441.70,402.90C445.78,403.03 451.00,403.07 454.50,403.40C458.00,403.73 459.00,404.58 462.70,404.90C466.40,405.22 472.42,405.05 476.70,405.30C480.98,405.55 484.50,406.07 488.40,406.40C492.30,406.73 496.50,407.12 500.10,407.30C503.70,407.48 506.40,407.27 510.00,407.50C513.60,407.73 517.80,408.40 521.70,408.70C525.60,409.00 529.52,409.03 533.40,409.30C537.28,409.57 541.12,409.85 545.00,410.30C548.88,410.75 552.80,411.42 556.70,412.00C560.60,412.58 564.90,412.92 568.40,413.80C571.90,414.68 574.43,415.78 577.70,417.30C580.97,418.82 584.97,420.75 588.00,422.90C591.03,425.05 593.70,427.43 595.90,430.20C598.10,432.97 599.53,436.62 601.20,439.50C602.87,442.38 604.57,444.18 605.90,447.50C607.23,450.82 608.10,455.65 609.20,459.40C610.30,463.15 611.50,466.68 612.50,470.00C613.50,473.32 614.42,475.97 615.20,479.30C615.98,482.63 616.33,484.88 617.20,490.00C618.07,495.12 619.23,503.58 620.40,510.00C621.57,516.42 622.92,521.58 624.20,528.50C625.48,535.42 626.68,543.55 628.10,551.50C629.52,559.45 631.50,569.78 632.70,576.20C633.90,582.62 634.20,584.38 635.30,590.00C636.40,595.62 637.97,604.37 639.30,609.90C640.63,615.43 641.98,619.22 643.30,623.20C644.62,627.18 645.67,630.05 647.20,633.80C648.73,637.55 650.72,641.95 652.50,645.70C654.28,649.45 656.23,653.53 657.90,656.30C659.57,659.07 660.97,660.20 662.50,662.30C664.03,664.40 665.45,666.80 667.10,668.90C668.75,671.00 671.52,673.90 672.40,674.90" fill="none" stroke="#CD7F60" stroke-width="1.5" stroke-linejoin="round" stroke-linecap="butt"/>
<rect x="209.80" y="31.80" width="7.8" height="2.0" fill="#5a2a1a" fill-opacity="0.55"/>
<rect x="266.60" y="30.20" width="7.8" height="1.4" fill="#5a2a1a" fill-opacity="0.55"/>
<rect x="179.4" y="257.2" width="106.3" height="34.7" fill="#fff" stroke="#555" stroke-width="0.9"/>
<line x1="188" y1="269" x2="206" y2="269" stroke="#87CEFA" stroke-width="1.5"/>
<line x1="188" y1="280.2" x2="206" y2="280.2" stroke="#CD7F60" stroke-width="1.5"/>
<text x="214.2" y="272.9" font-size="9.7" fill="#1a1a1a" stroke="#1a1a1a" stroke-width="0.12">TF-IDF + LGBM</text>
<text x="214.2" y="284.1" font-size="9.7" fill="#1a1a1a" stroke="#1a1a1a" stroke-width="0.12">XLM</text>
</svg>
</body></html>
